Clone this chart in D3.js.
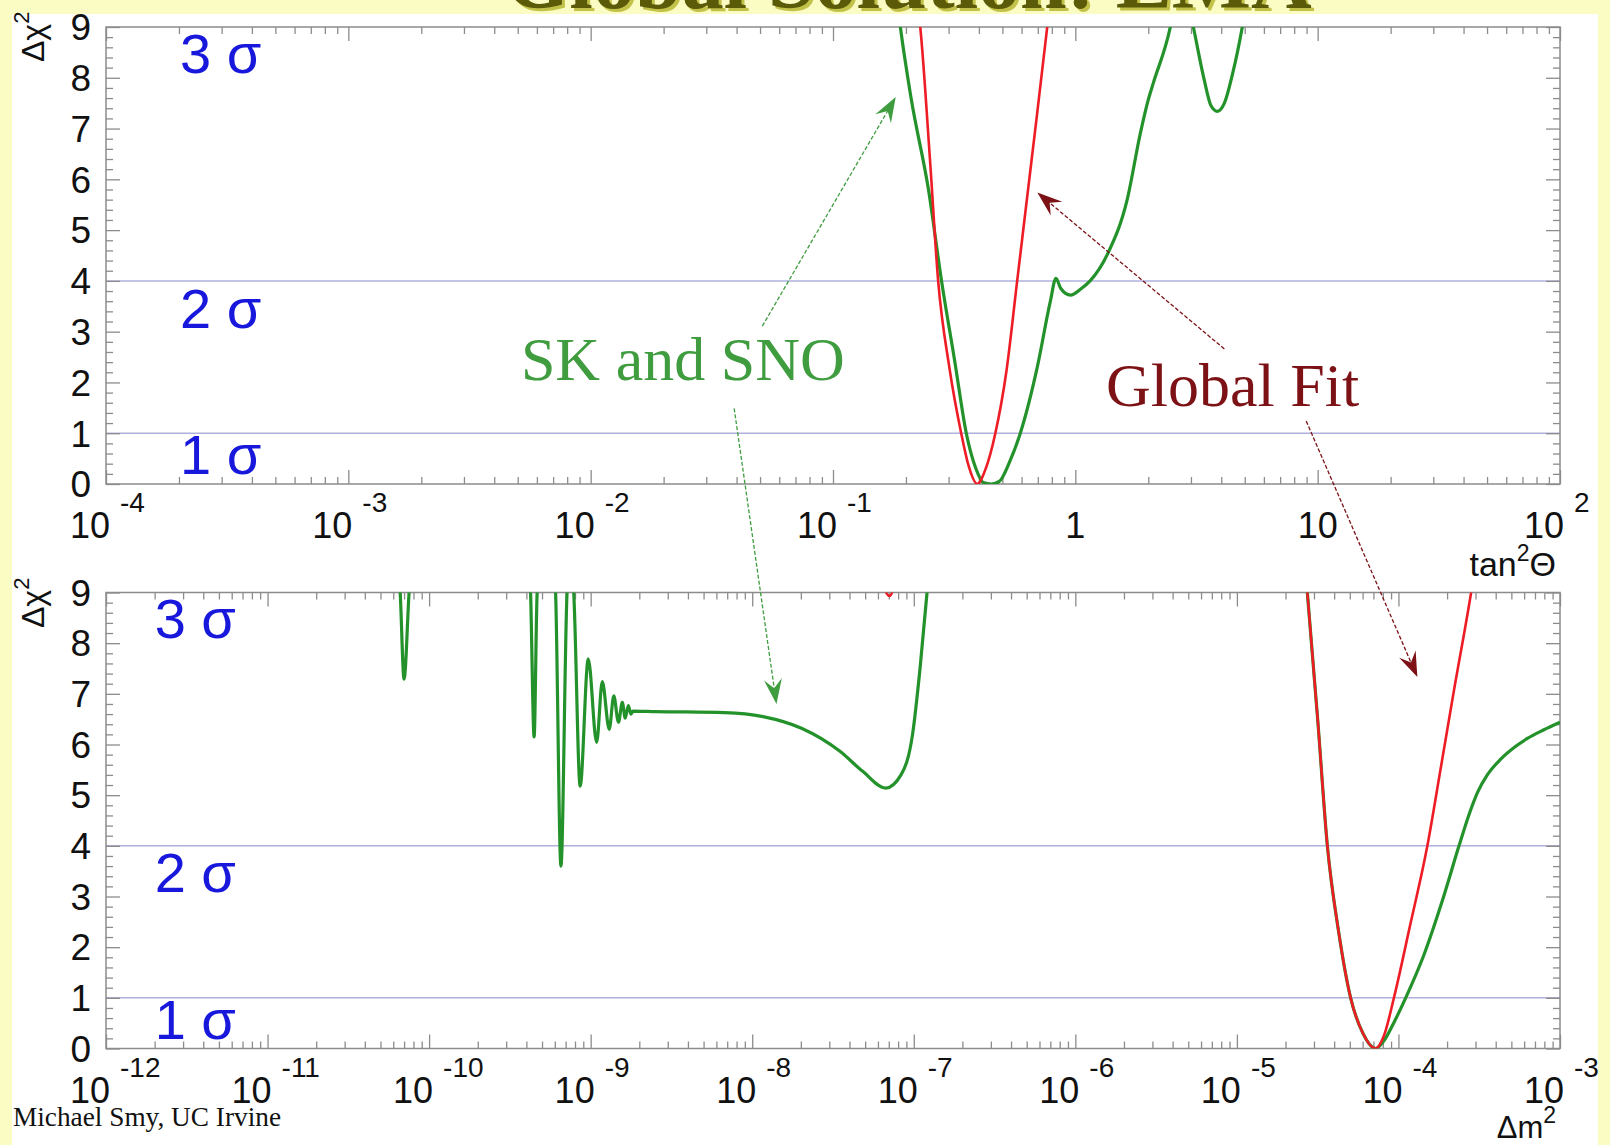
<!DOCTYPE html>
<html>
<head>
<meta charset="utf-8">
<title>Global Solution: LMA</title>
<script src="https://cdn.jsdelivr.net/npm/d3@7"></script>
<style>
  html, body { margin: 0; padding: 0; background: #fbfbc4; }
  svg { display: block; }
</style>
</head>
<body>
<svg id="chart" width="1610" height="1145"></svg>
<script>
// ---- Δχ² profile versus tan²Θ (upper panel): [tan²Θ, Δχ²] ----
const tanGreen = [
  [0.1820, 9.7], [0.1897, 9.0], [0.2100, 7.6], [0.2477, 5.8], [0.2805, 4.0],
  [0.3184, 2.4], [0.3548, 1.0], [0.3890, 0.3], [0.4169, 0.03], [0.4498, 0.0],
  [0.4853, 0.05], [0.5370, 0.45], [0.5929, 1.0], [0.6966, 2.3], [0.7889, 3.6],
  [0.8318, 4.05], [0.8710, 3.85], [0.9550, 3.72], [1.0593, 3.85], [1.1508, 4.0],
  [1.3646, 4.55], [1.6368, 5.6], [1.8535, 6.9], [1.9953, 7.55], [2.0989, 7.9],
  [2.4660, 9.0], [2.6915, 10.0], [2.8840, 9.6], [3.0690, 9.0], [3.3884, 8.0],
  [3.6308, 7.45], [3.8548, 7.34], [4.1210, 7.5], [4.4668, 8.1], [4.8865, 9.0],
  [5.1286, 9.6]
];
const tanRed = [
  [0.2213, 9.6], [0.2291, 9.0], [0.2512, 6.4], [0.2716, 4.0], [0.3020, 2.3],
  [0.3381, 1.0], [0.3631, 0.35], [0.3936, 0.0], [0.4266, 0.3], [0.4677, 1.0],
  [0.5188, 2.2], [0.5754, 4.0], [0.6607, 6.4], [0.7656, 9.0], [0.7943, 9.7]
];

// ---- Δχ² profile versus Δm² in eV² (lower panel): [Δm², Δχ²] ----
const dmGreen = [
  [1e-12, 11], [6.026e-11, 10.5], [6.622e-11, 9.0], [6.998e-11, 7.29], [7.516e-11, 9.0],
  [8.128e-11, 10.5], [3.981e-10, 10.5], [4.246e-10, 9.0], [4.467e-10, 6.15], [4.667e-10, 9.0],
  [5.623e-10, 10.5], [6.067e-10, 9.0], [6.546e-10, 3.60], [7.145e-10, 9.0], [7.499e-10, 9.6],
  [7.852e-10, 9.0], [8.610e-10, 5.18], [9.661e-10, 7.69], [1.089e-9, 6.04], [1.180e-9, 7.24],
  [1.303e-9, 6.30], [1.390e-9, 6.96], [1.486e-9, 6.44], [1.570e-9, 6.83], [1.637e-9, 6.52],
  [1.710e-9, 6.77], [1.778e-9, 6.60], [1.828e-9, 6.66], [2.512e-9, 6.65], [6.761e-9, 6.63],
  [1.167e-8, 6.55], [2.018e-8, 6.32], [3.475e-8, 5.87], [4.831e-8, 5.47], [6.699e-8, 5.14],
  [8.337e-8, 5.40], [9.817e-8, 6.19], [1.094e-7, 7.51], [1.208e-7, 9.0], [1.318e-7, 10.5],
  [3.162e-6, 14.0], [2.512e-5, 10.3], [2.729e-5, 9.0], [3.162e-5, 6.5], [3.631e-5, 4.0],
  [4.266e-5, 2.3], [5.058e-5, 1.0], [6.026e-5, 0.3], [7.228e-5, 0.0], [8.128e-5, 0.15],
  [9.333e-5, 0.5], [1.109e-4, 1.0], [1.439e-4, 1.85], [1.862e-4, 2.9], [2.371e-4, 4.0],
  [2.723e-4, 4.6], [3.083e-4, 5.05], [3.548e-4, 5.4], [4.295e-4, 5.71], [5.248e-4, 5.95],
  [6.281e-4, 6.12], [7.943e-4, 6.29], [1.000e-3, 6.44]
];
const dmRed = [
  [5.623e-8, 10.0], [7.079e-8, 8.93], [8.913e-8, 10.0], [2.512e-5, 10.3], [2.729e-5, 9.0],
  [3.162e-5, 6.5], [3.631e-5, 4.0], [4.266e-5, 2.3], [5.058e-5, 1.0], [6.026e-5, 0.3],
  [7.228e-5, 0.0], [8.128e-5, 0.25], [9.376e-5, 1.0], [1.175e-4, 2.4], [1.510e-4, 4.0],
  [1.820e-4, 5.5], [2.188e-4, 7.0], [2.818e-4, 9.0], [2.951e-4, 9.4]
];

// ---- axis labels ----
const tanTickLabels = [
  { v: 1e-4, base: "10", exp: "-4" }, { v: 1e-3, base: "10", exp: "-3" },
  { v: 1e-2, base: "10", exp: "-2" }, { v: 1e-1, base: "10", exp: "-1" },
  { v: 1, base: "1", exp: "" }, { v: 10, base: "10", exp: "" },
  { v: 100, base: "10", exp: "2" }
];
const dmTickLabels = [
  { v: 1e-12, base: "10", exp: "-12" }, { v: 1e-11, base: "10", exp: "-11" },
  { v: 1e-10, base: "10", exp: "-10" }, { v: 1e-9, base: "10", exp: "-9" },
  { v: 1e-8, base: "10", exp: "-8" }, { v: 1e-7, base: "10", exp: "-7" },
  { v: 1e-6, base: "10", exp: "-6" }, { v: 1e-5, base: "10", exp: "-5" },
  { v: 1e-4, base: "10", exp: "-4" }, { v: 1e-3, base: "10", exp: "-3" }
];
const chiTicks = [0, 1, 2, 3, 4, 5, 6, 7, 8, 9];
const sigmaLines = [1, 4];
const sigmaLabels = [
  { text: "1 σ", y: 0.19 }, { text: "2 σ", y: 3.08 }, { text: "3 σ", y: 8.1 }
];

// ---- colours & fonts ----
const GREEN = "#23922a", RED = "#ee1c25", MAROON = "#7c1216", NOTE_GREEN = "#3f9c3f";
const BLUE = "#1818dc", FRAME = "#8c8c8c", GRID = "#b0b0de";
const SANS = "'Liberation Sans', Arial, sans-serif";
const SERIF = "'Liberation Serif', 'Times New Roman', serif";

const svg = d3.select("#chart");
const W = 1610, H = 1145;

svg.append("rect").attr("width", W).attr("height", H).attr("fill", "#fbfbc4");

// headline, mostly above the page edge
svg.append("text").attr("x", 911).attr("y", 11).attr("text-anchor", "middle")
  .attr("font-family", SERIF).attr("font-weight", "bold").attr("font-size", 84)
  .attr("fill", "#c2c24a").text("Global Solution: LMA");
svg.append("text").attr("x", 908).attr("y", 8).attr("text-anchor", "middle")
  .attr("font-family", SERIF).attr("font-weight", "bold").attr("font-size", 84)
  .attr("fill", "#5a5a08").text("Global Solution: LMA");

svg.append("rect").attr("x", 12).attr("y", 14).attr("width", 1586).attr("height", H - 14)
  .attr("fill", "#ffffff");

const X0 = 106, X1 = 1560;
const panels = {
  top: {
    x: d3.scaleLog().domain([1e-4, 1e2]).range([X0, X1]),
    y: d3.scaleLinear().domain([0, 9]).range([484, 27]),
    labels: tanTickLabels, green: tanGreen, red: tanRed, sigmaX: 2.02e-4,
    title: ["tan", "2", "Θ"], titleY: 576, titleSize: 34, yTitleAt: 62
  },
  bottom: {
    x: d3.scaleLog().domain([1e-12, 1e-3]).range([X0, X1]),
    y: d3.scaleLinear().domain([0, 9]).range([1048.5, 592.5]),
    labels: dmTickLabels, green: dmGreen, red: dmRed, sigmaX: 2.0e-12,
    title: ["Δm", "2", ""], titleY: 1138, titleSize: 31, yTitleAt: 628
  }
};

function drawPanel(name) {
  const p = panels[name];
  const { x, y } = p;
  const g = svg.append("g").attr("class", "panel-" + name);
  const [yb, yt] = y.range();

  // σ reference lines
  g.selectAll("line.grid").data(sigmaLines).join("line").attr("class", "grid")
    .attr("x1", X0).attr("x2", X1).attr("y1", d => y(d)).attr("y2", d => y(d))
    .attr("stroke", GRID).attr("stroke-width", 1.5);

  // inside ticks on all four sides
  const xt = x.ticks();
  const isMajor = v => Math.abs(Math.log10(v) - Math.round(Math.log10(v))) < 1e-6;
  const xMinor = xt.filter(v => !isMajor(v)), xMajor = xt.filter(isMajor);
  const yMinor = d3.range(0, 9.001, 0.2).filter(v => Math.abs(v - Math.round(v)) > 1e-6);

  const addAxis = (axis, transform) => {
    const a = g.append("g").attr("transform", transform).call(axis);
    a.select(".domain").remove();
    a.selectAll(".tick line").attr("stroke", FRAME).attr("stroke-width", 1.3);
    a.selectAll("text").remove();
  };
  addAxis(d3.axisBottom(x).tickValues(xMinor).tickSize(-7), `translate(0,${yb})`);
  addAxis(d3.axisBottom(x).tickValues(xMajor).tickSize(-14), `translate(0,${yb})`);
  addAxis(d3.axisTop(x).tickValues(xMinor).tickSize(-7), `translate(0,${yt})`);
  addAxis(d3.axisTop(x).tickValues(xMajor).tickSize(-14), `translate(0,${yt})`);
  addAxis(d3.axisLeft(y).tickValues(yMinor).tickSize(-7), `translate(${X0},0)`);
  addAxis(d3.axisLeft(y).tickValues(chiTicks).tickSize(-14), `translate(${X0},0)`);
  addAxis(d3.axisRight(y).tickValues(yMinor).tickSize(-7), `translate(${X1},0)`);
  addAxis(d3.axisRight(y).tickValues(chiTicks).tickSize(-14), `translate(${X1},0)`);

  // frame
  g.append("rect").attr("x", X0).attr("y", yt).attr("width", X1 - X0).attr("height", yb - yt)
    .attr("fill", "none").attr("stroke", FRAME).attr("stroke-width", 1.5);

  // y tick labels
  g.selectAll("text.ylab").data(chiTicks).join("text").attr("class", "ylab")
    .attr("x", X0 - 15).attr("y", d => y(d)).attr("dy", "0.36em")
    .attr("text-anchor", "end").attr("font-family", SANS).attr("font-size", 37)
    .attr("fill", "#111").text(d => d);

  // x tick labels (power-of-ten style)
  const lab = g.selectAll("g.xlab").data(p.labels).join("g").attr("class", "xlab")
    .attr("transform", d => `translate(${x(d.v)},${yb + 54})`);
  lab.append("text")
    .attr("x", d => d.exp ? 4 : 0)
    .attr("text-anchor", d => d.exp ? "end" : "middle")
    .attr("font-family", SANS).attr("font-size", 36).attr("fill", "#111")
    .text(d => d.base);
  lab.filter(d => d.exp).append("text")
    .attr("x", 14).attr("y", -26)
    .attr("font-family", SANS).attr("font-size", 28).attr("fill", "#111")
    .text(d => d.exp);

  // axis titles
  const yTitle = g.append("text")
    .attr("transform", `translate(44,${p.yTitleAt}) rotate(-90)`)
    .attr("font-family", SANS).attr("font-size", 32).attr("fill", "#111");
  yTitle.append("tspan").text("Δχ");
  yTitle.append("tspan").attr("font-size", 22).attr("dy", -15).text("2");

  const xTitle = g.append("text").attr("x", 1556).attr("y", p.titleY)
    .attr("text-anchor", "end").attr("font-family", SANS).attr("font-size", p.titleSize).attr("fill", "#111");
  xTitle.append("tspan").text(p.title[0]);
  xTitle.append("tspan").attr("font-size", 23).attr("dy", -15).text(p.title[1]);
  if (p.title[2]) xTitle.append("tspan").attr("dy", 15).text(p.title[2]);

  // σ level labels
  g.selectAll("text.sig").data(sigmaLabels).join("text").attr("class", "sig")
    .attr("x", x(p.sigmaX)).attr("y", d => y(d.y))
    .attr("font-family", SANS).attr("font-size", 56).attr("fill", BLUE)
    .text(d => d.text);

  // curves, clipped to the frame
  const clipId = "clip-" + name;
  g.append("clipPath").attr("id", clipId).append("rect")
    .attr("x", X0).attr("y", yt).attr("width", X1 - X0).attr("height", yb - yt);
  const line = d3.line().x(d => x(d[0])).y(d => y(d[1])).curve(d3.curveMonotoneX);
  const curves = g.append("g").attr("clip-path", `url(#${clipId})`);
  curves.append("path").datum(p.green).attr("d", line)
    .attr("fill", "none").attr("stroke", GREEN).attr("stroke-width", 3.2);
  curves.append("path").datum(p.red).attr("d", line)
    .attr("fill", "none").attr("stroke", RED).attr("stroke-width", 2.6);
}

drawPanel("top");
drawPanel("bottom");

// ---- annotations ----
const notes = [
  { text: "SK and SNO", color: NOTE_GREEN, x: 0.0240, y: 2.05 },
  { text: "Global Fit", color: MAROON, x: 4.46, y: 1.53 }
];
const arrows = [
  { color: NOTE_GREEN, from: ["top", 0.0511, 3.11], to: ["top", 0.1815, 7.62] },
  { color: NOTE_GREEN, from: ["top", 0.0391, 1.49], to: ["bottom", 1.413e-8, 6.80] },
  { color: MAROON, from: ["top", 4.12, 2.66], to: ["top", 0.697, 5.74] },
  { color: MAROON, from: ["top", 8.97, 1.24], to: ["bottom", 1.309e-4, 7.33] }
];

const ann = svg.append("g").attr("class", "annotations");
ann.selectAll("text").data(notes).join("text")
  .attr("x", d => panels.top.x(d.x)).attr("y", d => panels.top.y(d.y))
  .attr("text-anchor", "middle").attr("font-family", SERIF).attr("font-size", 62)
  .attr("fill", d => d.color).text(d => d.text);

const pt = ([pn, vx, vy]) => [panels[pn].x(vx), panels[pn].y(vy)];
arrows.forEach(a => {
  const [x1, y1] = pt(a.from), [x2, y2] = pt(a.to);
  const ang = Math.atan2(y2 - y1, x2 - x1);
  const L = 25, w = 9;
  const back = (d, s) => [x2 - d * Math.cos(ang) - s * Math.sin(ang), y2 - d * Math.sin(ang) + s * Math.cos(ang)];
  ann.append("line").attr("x1", x1).attr("y1", y1)
    .attr("x2", back(14, 0)[0]).attr("y2", back(14, 0)[1])
    .attr("stroke", a.color).attr("stroke-width", 1.3).attr("stroke-dasharray", "4,2");
  ann.append("polygon")
    .attr("points", [[x2, y2], back(L, w), back(16, 0), back(L, -w)].map(q => q.join(",")).join(" "))
    .attr("fill", a.color);
});

// credit line
svg.append("text").attr("x", 13).attr("y", 1126)
  .attr("font-family", SERIF).attr("font-size", 28).attr("fill", "#111")
  .attr("textLength", 268).attr("lengthAdjust", "spacingAndGlyphs")
  .text("Michael Smy, UC Irvine");
</script>
</body>
</html>
